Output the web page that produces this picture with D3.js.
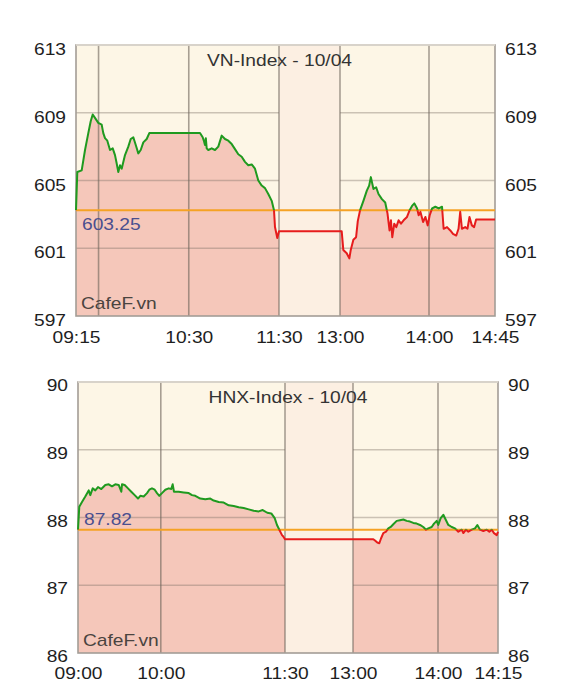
<!DOCTYPE html>
<html><head><meta charset="utf-8">
<script src="https://cdn.jsdelivr.net/npm/d3@7/dist/d3.min.js"></script>
<style>body{margin:0;background:#fff}svg{display:block}</style>
</head><body>
<svg id="c" width="577" height="697"></svg>
<script>
// ---------- DATA ----------
const vnTitle = "VN-Index - 10/04";
const vnRef = 603.25;
const vnYTicks = [597, 601, 605, 609, 613];
const vnXTicks = ["09:15", "10:30", "11:30", "13:00", "14:00", "14:45"];
const vnGridTimes = ["09:30", "10:30", "11:30", "13:00", "14:00"];
const vnTimes = ["09:15:00","09:15:52","09:18:47","09:21:00","09:23:11","09:24:47","09:26:07","09:27:38","09:29:50","09:32:05","09:33:09","09:34:17","09:35:49","09:37:37","09:39:25","09:40:56","09:42:04","09:43:08","09:44:16","09:45:23","09:47:35","09:49:47","09:51:23","09:53:07","09:54:54","09:56:26","09:58:02","09:59:46","10:02:01","10:03:45","10:37:28","10:39:15","10:40:10","10:40:47","10:41:20","10:41:55","10:42:59","10:45:15","10:47:26","10:49:38","10:51:54","10:54:05","10:56:17","10:58:33","11:00:44","11:02:56","11:05:12","11:07:23","11:09:35","11:11:51","11:14:02","11:16:14","11:18:30","11:20:41","11:22:53","11:25:09","11:26:40","11:27:20","11:28:52","11:30:00",
"13:00:00","13:01:09","13:02:14","13:04:32","13:06:18","13:07:15","13:09:01","13:10:50","13:11:59","13:13:33","13:15:47","13:18:05","13:19:39","13:20:48","13:22:34","13:24:23","13:25:57","13:28:15","13:30:29","13:32:02","13:33:24","13:34:21","13:35:14","13:36:35","13:37:56","13:39:30","13:41:07","13:42:53","13:45:11","13:46:57","13:48:34","13:50:08","13:51:58","13:53:02","13:54:12","13:56:01","13:57:35","13:59:08","14:00:29","14:02:07","14:04:21","14:06:35","14:08:53","14:09:59","14:12:17","14:14:31","14:16:21","14:18:35","14:20:08","14:21:17","14:22:27","14:24:41","14:26:14","14:27:36","14:29:13","14:30:46","14:32:08","14:45:00"];
const vnValues = [603.25,605.5,605.6,606.8,607.8,608.5,608.9,608.7,608.4,608.3,607.8,607.5,607.35,606.8,606.9,606.5,606.0,605.5,605.9,605.7,606.5,607.0,607.45,607.55,607.05,606.6,606.8,607.25,607.45,607.8,607.8,607.55,607.3,607.1,607.5,606.9,606.8,606.9,606.8,607.0,607.65,607.45,607.35,607.15,606.85,606.55,606.4,606.1,605.9,605.95,605.7,605.0,604.7,604.55,604.2,603.8,603.25,602.25,601.6,602.0,
602.0,602.0,600.9,600.7,600.4,600.9,601.5,601.65,602.6,603.25,603.8,604.4,604.7,605.2,604.5,604.6,604.2,603.9,603.7,603.05,602.05,602.65,601.65,602.45,602.25,602.65,602.45,602.65,602.85,603.25,603.5,603.65,603.35,602.95,603.15,602.55,602.85,602.35,602.95,603.35,603.45,603.35,603.45,602.15,602.25,602.05,601.85,601.75,602.15,603.15,602.15,602.25,602.15,602.85,602.35,602.25,602.7,602.7];

const hnxTitle = "HNX-Index - 10/04";
const hnxRef = 87.82;
const hnxYTicks = [86, 87, 88, 89, 90];
const hnxXTicks = ["09:00", "10:00", "11:30", "13:00", "14:00", "14:15"];
const hnxGridTimes = ["10:00", "11:30", "13:00", "14:00"];
const hnxTimes = ["09:00:00","09:00:56","09:02:54","09:05:17","09:07:45","09:08:55","09:10:39","09:12:32","09:14:30","09:16:53","09:19:47","09:22:15","09:24:38","09:27:02","09:29:30","09:31:23","09:31:53","09:33:50","09:36:14","09:38:37","09:41:05","09:43:29","09:45:09","09:47:36","09:50:00","09:51:40","09:53:37","09:55:35","09:57:15","09:58:55","10:00:52","10:03:16","10:05:43","10:07:36","10:08:37","10:09:34","10:12:58","10:16:35","10:20:13","10:22:37","10:25:00","10:28:37","10:32:15","10:35:52","10:38:20","10:41:57","10:45:35","10:49:12","10:52:50","10:56:27","11:00:04","11:03:42","11:07:19","11:10:57","11:13:50","11:17:10","11:20:04","11:22:32","11:24:12","11:25:52","11:27:50","11:28:46","11:30:00",
"13:00:00","13:14:20","13:15:32","13:17:09","13:18:34","13:19:46","13:21:23","13:23:18","13:24:55","13:26:37","13:28:27","13:30:51","13:33:11","13:35:31","13:37:55","13:40:14","13:42:34","13:44:58","13:47:18","13:49:37","13:51:32","13:53:09","13:55:33","13:57:11","13:59:05","14:00:04","14:00:40","14:01:20","14:02:00","14:02:35","14:03:26","14:04:15","14:05:05","14:05:56","14:06:20","14:07:00","14:07:35","14:08:26","14:09:15","14:09:50","14:10:30","14:11:20","14:12:11","14:12:50","14:13:26","14:14:00","14:14:41","14:15:00"];
const hnxValues = [87.82,88.16,88.23,88.31,88.40,88.33,88.43,88.40,88.45,88.42,88.48,88.49,88.46,88.49,88.48,88.38,88.49,88.48,88.43,88.38,88.33,88.28,88.32,88.31,88.36,88.41,88.43,88.41,88.36,88.32,88.36,88.41,88.43,88.42,88.49,88.38,88.38,88.37,88.36,88.33,88.32,88.28,88.27,88.28,88.25,88.23,88.22,88.18,88.17,88.15,88.14,88.12,88.10,88.09,88.11,88.07,88.06,87.99,87.89,87.82,87.74,87.72,87.68,
87.68,87.68,87.66,87.63,87.62,87.69,87.77,87.79,87.84,87.86,87.90,87.95,87.96,87.97,87.95,87.94,87.92,87.91,87.89,87.86,87.82,87.84,87.86,87.91,87.95,87.89,87.99,88.04,87.96,87.89,87.86,87.84,87.79,87.82,87.77,87.82,87.79,87.82,87.84,87.89,87.82,87.80,87.82,87.79,87.82,87.77,87.74,87.79];

// ---------- RENDER ----------
const toMin = s => { const p = s.split(":").map(Number); return p[0]*60 + p[1] + (p[2]||0)/60; };
const svg = d3.select("#c");
const FONT = "'Liberation Sans', Arial, Helvetica, sans-serif";
const C = {
  cream: "#fdf6e6", lunch: "#fcefe2", fill: "#f5c7ba",
  gridH: "rgba(120,110,100,0.38)", gridV: "rgba(110,100,90,0.6)",
  border: "#a39d96", ref: "#f5a224", up: "#1f9a1f", down: "#e61c1c",
  refText: "#4a4f8f", brand: "#4a4440", tick: "#1e1e1e"
};

function stretchText(sel, tx, ty) {
  sel.each(function() {
    d3.select(this).attr("x", null).attr("y", null).attr("dy", null)
      .attr("transform", `translate(${tx},${ty}) scale(1.2,1)`);
  });
}

function drawChart(o) {
  const {id, L, R, T, B, domainT, rangeX, times, values, ref, yTicks, xTicks, gridTimes, title,
         titleDx, refLabelDy, xLabelDy, yLabelDy, lunch} = o;
  const x = d3.scaleLinear().domain(domainT.map(toMin)).range(rangeX);
  const y = d3.scaleLinear().domain([yTicks[0], yTicks[yTicks.length-1]]).range([B, T]);
  const data = times.map((t, i) => ({t: toMin(t), v: values[i]}));
  const g = svg.append("g");

  g.append("rect").attr("x", L).attr("y", T).attr("width", R-L).attr("height", B-T).attr("fill", C.cream);

  const area = d3.area().x(d => x(d.t)).y0(B).y1(d => y(d.v));
  g.append("path").datum(data).attr("d", area).attr("fill", C.fill);

  g.selectAll(".gh").data(yTicks.slice(1, -1)).join("line")
    .attr("x1", L).attr("x2", R).attr("y1", d => y(d)).attr("y2", d => y(d))
    .attr("stroke", C.gridH).attr("stroke-width", 1.5);

  const lx0 = x(toMin(lunch[0])), lx1 = x(toMin(lunch[1]));
  g.append("rect").attr("x", lx0).attr("y", T).attr("width", lx1-lx0).attr("height", B-T).attr("fill", C.lunch);

  g.selectAll(".gv").data(gridTimes).join("line")
    .attr("x1", d => x(toMin(d))).attr("x2", d => x(toMin(d))).attr("y1", T).attr("y2", B)
    .attr("stroke", C.gridV).attr("stroke-width", 1.6);

  g.append("rect").attr("x", L).attr("y", T).attr("width", R-L).attr("height", B-T)
    .attr("fill", "none").attr("stroke", C.border).attr("stroke-width", 1.6);
  g.append("line").attr("x1", L).attr("x2", R).attr("y1", T).attr("y2", T)
    .attr("stroke", "#e4dfd6").attr("stroke-width", 1.6);

  const ry = y(ref);
  g.append("line").attr("x1", L).attr("x2", R).attr("y1", ry).attr("y2", ry)
    .attr("stroke", C.ref).attr("stroke-width", 2);

  const defs = svg.append("defs");
  defs.append("clipPath").attr("id", id+"up").append("rect").attr("x", L-5).attr("y", 0).attr("width", R-L+10).attr("height", ry);
  defs.append("clipPath").attr("id", id+"dn").append("rect").attr("x", L-5).attr("y", ry).attr("width", R-L+10).attr("height", 697-ry);
  const line = d3.line().x(d => x(d.t)).y(d => y(d.v));
  g.append("path").datum(data).attr("d", line).attr("fill", "none").attr("stroke", C.up)
    .attr("stroke-width", 2).attr("stroke-linejoin", "round").attr("clip-path", `url(#${id}up)`);
  g.append("path").datum(data).attr("d", line).attr("fill", "none").attr("stroke", C.down)
    .attr("stroke-width", 2).attr("stroke-linejoin", "round").attr("clip-path", `url(#${id}dn)`);

  const yl = g.append("g").attr("transform", `translate(${L},0)`)
    .call(d3.axisLeft(y).tickValues(yTicks).tickSize(0).tickPadding(10).tickFormat(d3.format("d")));
  const yr = g.append("g").attr("transform", `translate(${R},0)`)
    .call(d3.axisRight(y).tickValues(yTicks).tickSize(0).tickPadding(10).tickFormat(d3.format("d")));
  const xa = g.append("g").attr("transform", `translate(0,${B})`)
    .call(d3.axisBottom(x).tickValues(xTicks.map(toMin)).tickSize(0).tickFormat((d, i) => xTicks[i]));
  [yl, yr, xa].forEach(a => {
    a.select(".domain").remove();
    a.selectAll("text").attr("fill", C.tick).style("font-family", FONT).style("font-size", "16px");
  });
  stretchText(yl.selectAll("text").attr("text-anchor", "end"), -10, yLabelDy);
  stretchText(yr.selectAll("text").attr("text-anchor", "start"), 10, yLabelDy);
  stretchText(xa.selectAll("text").attr("text-anchor", "middle"), 0, xLabelDy);

  const txt = (s, tx, ty, fill, anchor) => g.append("text").text(s)
    .attr("transform", `translate(${tx},${ty}) scale(1.2,1)`)
    .attr("text-anchor", anchor).attr("fill", fill)
    .style("font-family", FONT).style("font-size", "16px");
  txt(title, (L+R)/2 + titleDx, T+21, "#333", "middle");
  txt(d3.format(".2f")(ref), L+6, ry+refLabelDy, C.refText, "start");
  txt("CafeF.vn", L+5, B-7, C.brand, "start");
}

drawChart({id: "vn", L: 76, R: 495, T: 45, B: 316,
  domainT: ["09:15", "11:30", "13:00", "14:00", "14:45"], rangeX: [76, 279, 340, 429, 495],
  times: vnTimes, values: vnValues, ref: vnRef, yTicks: vnYTicks, xTicks: vnXTicks,
  gridTimes: vnGridTimes, title: vnTitle, titleDx: -6, refLabelDy: 20, xLabelDy: 27, yLabelDy: 9.5,
  lunch: ["11:30", "13:00"]});

drawChart({id: "hnx", L: 78, R: 498, T: 382, B: 653,
  domainT: ["09:00", "11:30", "13:00", "14:00", "14:15"], rangeX: [78, 285, 353, 438, 498],
  times: hnxTimes, values: hnxValues, ref: hnxRef, yTicks: hnxYTicks, xTicks: hnxXTicks,
  gridTimes: hnxGridTimes, title: hnxTitle, titleDx: 0, refLabelDy: -5, xLabelDy: 25.5, yLabelDy: 8.5,
  lunch: ["11:30", "13:00"]});
</script>
</body></html>
